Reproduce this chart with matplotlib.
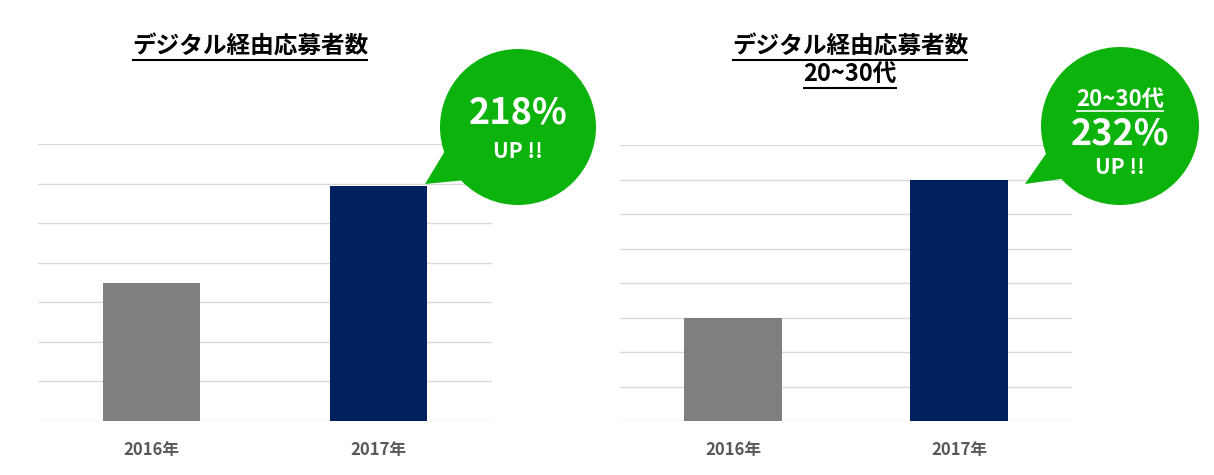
import matplotlib
matplotlib.use('Agg')
import matplotlib.pyplot as plt
from matplotlib.patches import Ellipse, Polygon

plt.rcParams['font.family'] = ['Noto Sans CJK JP', 'DejaVu Sans']

# data (in gridline units)
years = ['2016年', '2017年']
digital_total = [3.5, 5.95]
digital_20_30 = [3.0, 7.0]
bar_colors = ['#7f7f7f', '#002060']
green = '#0db30d'

W, H = 1214, 475
fig = plt.figure(figsize=(W / 100, H / 100), dpi=100)


def px_axes(x0, x1, y_top, y_bot):
    return fig.add_axes([x0 / W, 1 - y_bot / H, (x1 - x0) / W, (y_bot - y_top) / H])


def draw_bars(ax, values, ymax):
    ax.bar(range(len(years)), values, width=0.43, color=bar_colors, zorder=2)
    ax.set_xlim(-0.5, 1.5)
    ax.set_ylim(0, ymax)
    ax.set_yticks(range(ymax + 1))
    ax.yaxis.grid(True, color='#d9d9d9', lw=1)
    ax.set_axisbelow(True)
    for s in ax.spines.values():
        s.set_visible(False)
    ax.tick_params(left=False, labelleft=False, bottom=False, pad=11)
    ax.set_xticks(range(len(years)), years, fontsize=12, fontweight='bold', color='#595959')


ax1 = px_axes(38, 492, 144, 421)
ax2 = px_axes(620, 1072, 145, 421)
draw_bars(ax1, digital_total, 7)
draw_bars(ax2, digital_20_30, 8)

# overlay in pixel coords for titles and speech bubbles
ov = fig.add_axes([0, 0, 1, 1])
ov.set_xlim(0, W)
ov.set_ylim(H, 0)
ov.axis('off')

renderer = fig.canvas.get_renderer()


def underlined(x, y, s, size, color='black', lw=1.5, gap=1):
    t = ov.text(x, y, s, ha='center', va='center', fontsize=size, fontweight='bold', color=color)
    bb = t.get_window_extent(renderer)
    yy = H - bb.y0 + gap
    ov.plot([bb.x0, bb.x1], [yy, yy], color=color, lw=lw, solid_capstyle='butt')
    return t


def bubble(cx, cy, r, tail):
    ov.add_patch(Polygon(tail, closed=True, facecolor=green, lw=0))
    ov.add_patch(Ellipse((cx, cy), 2 * r, 2 * r, facecolor=green, lw=0))


# titles
underlined(250, 47, 'デジタル経由応募者数', 17)
underlined(850, 47, 'デジタル経由応募者数', 17)
underlined(850, 75, '20~30代', 17)

# left bubble
bubble(518, 127, 78, [(448, 146), (425, 184), (466, 180)])
ov.text(518, 113, '218%', ha='center', va='center', fontsize=26, fontweight='bold', color='white')
ov.text(518, 151, 'UP !!', ha='center', va='center', fontsize=15, fontweight='bold', color='white')

# right bubble
bubble(1120, 126, 79, [(1050, 148), (1025, 184), (1068, 178)])
underlined(1120, 99, '20~30代', 16, color='white', lw=1.2, gap=0)
ov.text(1120, 134, '232%', ha='center', va='center', fontsize=26, fontweight='bold', color='white')
ov.text(1120, 168, 'UP !!', ha='center', va='center', fontsize=15, fontweight='bold', color='white')

fig.savefig('out.png', dpi=100)
